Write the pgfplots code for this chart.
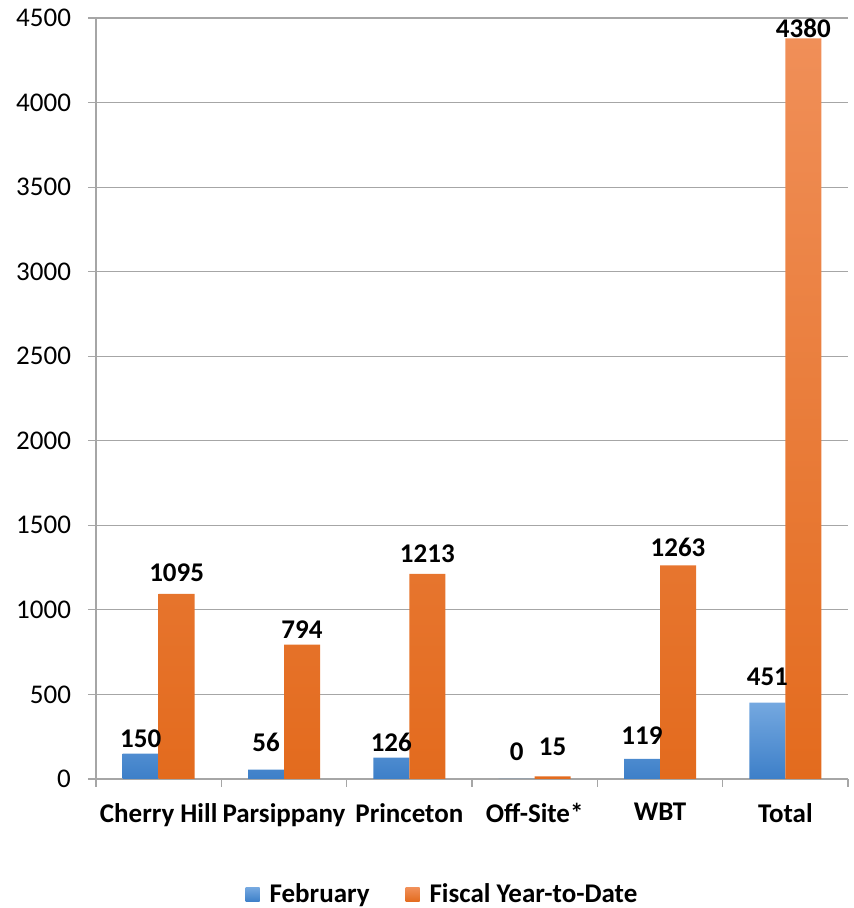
\documentclass[border=0pt]{standalone}
\usepackage{fontspec}
\setmainfont{Carlito}
\usepackage{pgfplots}
\usepackage{pgfplotstable}
\pgfplotsset{compat=1.18}
\definecolor{gridgray}{HTML}{A6A6A6}
\definecolor{bluetop}{HTML}{74A8E0}
\definecolor{bluemid}{HTML}{5A98DA}
\definecolor{bluebot}{HTML}{3D7FC8}
\definecolor{ortop}{HTML}{F08F58}
\definecolor{ormid}{HTML}{F58230}
\definecolor{orbot}{HTML}{E36B1E}
\pgfplotstableread{
x y dy
0 150 3
1 56 8.5
2 126 3
3 0 9
4 119 7
5 451 8.5
}\feb
\pgfplotstableread{
x y dy
0 1095 6
1 794 3
2 1213 5.3
3 15 10
4 1263 4
5 4380 0
}\fytd
\newcommand{\lbl}{\bfseries\fontsize{13.5}{16}\selectfont}
\begin{document}
\begin{tikzpicture}
\path[use as bounding box] (-48pt,-64.5pt) rectangle (378.5pt,389.5pt);
\begin{axis}[at={(0,0)}, anchor=south west, scale only axis,
  width=376pt, height=380.5pt,
  ybar=0pt, bar width=18pt,
  xmin=-0.5, xmax=5.5, ymin=0, ymax=4500,
  xtick={0,...,5},
  xticklabels={Cherry Hill, Parsippany, Princeton, Off-Site*, WBT, Total},
  minor xtick={-0.5,0.5,...,5.5},
  ytick={0,500,...,4500},
  ymajorgrids, grid style={gridgray, line width=0.6pt},
  axis x line*=bottom, axis y line*=left,
  axis line style={gridgray, line width=0.6pt, -},
  tick align=outside, major tick length=4pt, minor tick length=4pt,
  tick style={gridgray, line width=0.6pt},
  major x tick style={draw=none},
  /pgf/number format/assume math mode=true,
  /pgf/number format/1000 sep={},
  yticklabel style={font=\fontsize{13.5}{16}\selectfont, xshift=-5pt},
  xticklabel style={font=\lbl, yshift=-4.5pt},
  nodes near coords,
  visualization depends on={\thisrow{dy} \as \dy},
  every node near coord/.append style={font=\lbl, inner sep=0pt, yshift=\dy pt, black},
  legend style={at={(0.462,-0.152)}, anchor=center, draw=none, legend columns=2,
    font=\lbl,
    /tikz/every even column/.append style={column sep=16pt}},
  legend image code/.code={\path[#1,draw=none] (0pt,-3.5pt) rectangle (7pt,3.5pt); \path (10pt,0pt);},
]
\addplot[draw=none, shading=axis, top color=bluetop, middle color=bluemid, bottom color=bluebot]
  table[x=x, y=y] {\feb};
\addplot[draw=none, shading=axis, top color=ortop, middle color=ormid, bottom color=orbot]
  table[x=x, y=y] {\fytd};
\legend{February, Fiscal Year-to-Date}
\end{axis}
\end{tikzpicture}
\end{document}
